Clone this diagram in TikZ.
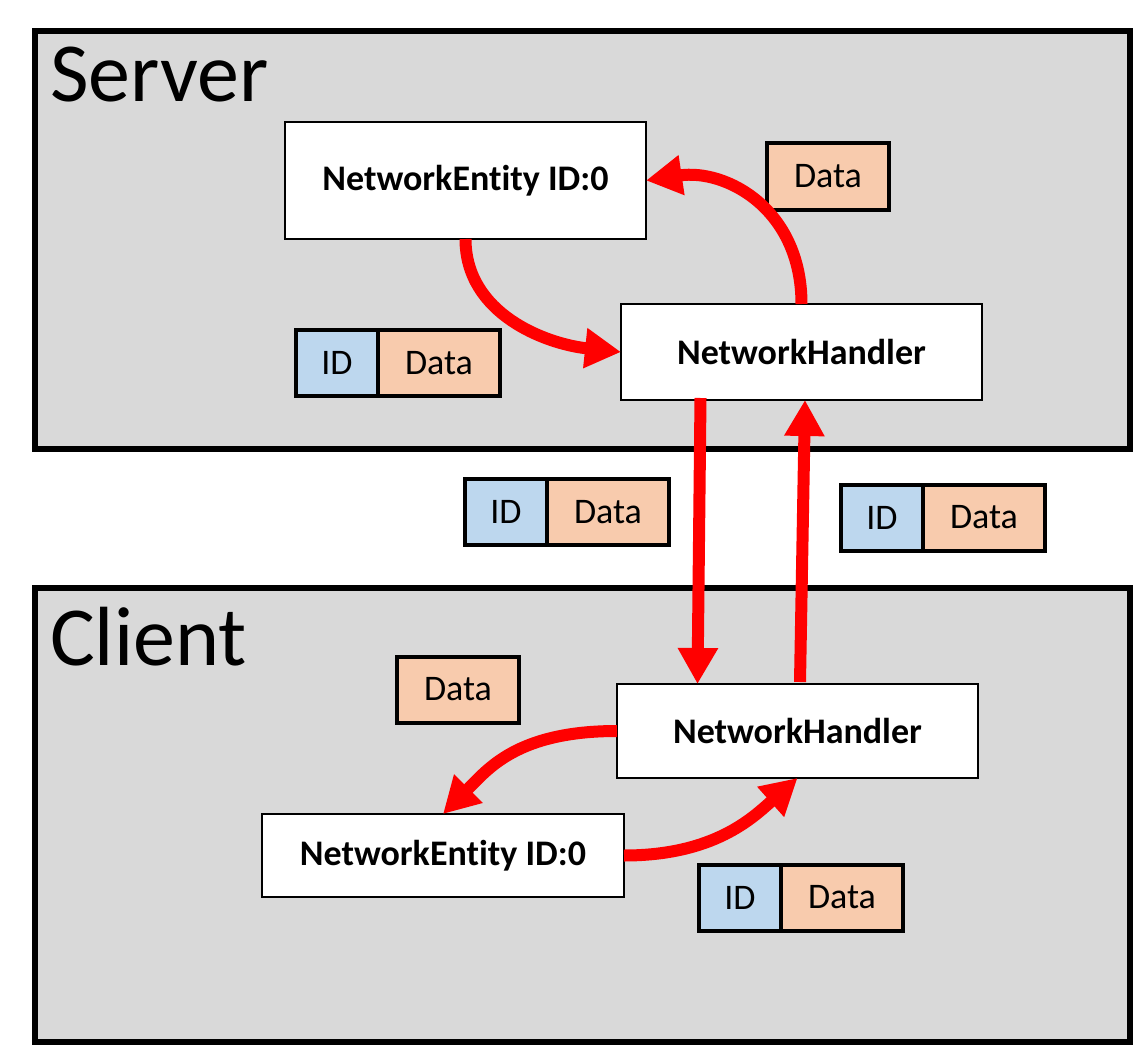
\documentclass[tikz,border=0pt]{standalone}
\usepackage{fontspec}
\setmainfont{Carlito}[Ligatures=NoCommon]
\usetikzlibrary{arrows.meta}
\definecolor{panelgray}{HTML}{D9D9D9}
\definecolor{idblue}{HTML}{BDD7EE}
\definecolor{dataorange}{HTML}{F8CBAD}
\definecolor{arrred}{HTML}{FF0000}
\begin{document}
\begin{tikzpicture}[x=1pt,y=-1pt,
  every node/.style={outer sep=0pt},
  panel/.style={draw=black,fill=panelgray,line width=6pt,inner sep=0pt,minimum width=1095pt},
  panellabel/.style={font=\fontsize{84}{84}\selectfont,anchor=base west,inner sep=0pt},
  comp/.style={draw=black,fill=white,line width=2pt,inner sep=0pt,minimum width=361pt,font=\fontsize{36}{36}\selectfont\bfseries},
  idbox/.style={draw=black,fill=idblue,line width=4pt,inner sep=0pt,minimum width=82pt,minimum height=66pt,font=\fontsize{36}{36}\selectfont},
  databox/.style={draw=black,fill=dataorange,line width=4pt,inner sep=0pt,minimum width=122pt,minimum height=66pt,font=\fontsize{36}{36}\selectfont},
  flow/.style={draw=arrred,line width=12pt,-{Triangle[width=38pt,length=36pt]}}
]
\useasboundingbox (0,0) rectangle (1133,1046);
\fill[white] (0,0) rectangle (1133,1046);

% panels
\node[panel,minimum height=418pt] (server) at (582.5,240) {};
\node[panel,minimum height=454pt] (client) at (582.5,815) {};
\node[panellabel] (serverlbl) at (50,102) {Server};
\node[panellabel] (clientlbl) at (50,665) {Client};

% server components
\node[comp,minimum height=117pt] (neS) at (465.5,180.5) {NetworkEntity ID:0};
\node[comp,minimum height=96pt] (nhS) at (801.5,352) {NetworkHandler};
\node[databox] (dataS) at (828,176.5) {Data};
\node[idbox,anchor=west] (idS) at (296,363) {ID};
\node[databox,anchor=west] (idDataS) at (idS.east) {Data};

% middle packets
\node[idbox,anchor=west] (idM1) at (465,512) {ID};
\node[databox,anchor=west] (dataM1) at (idM1.east) {Data};
\node[idbox,anchor=west] (idM2) at (841,517.5) {ID};
\node[databox,anchor=west] (dataM2) at (idM2.east) {Data};

% client components
\node[comp,minimum height=94pt] (nhC) at (797.5,731) {NetworkHandler};
\node[comp,minimum height=83pt,minimum width=362pt] (neC) at (443,855.5) {NetworkEntity ID:0};
\node[databox] (dataC) at (458,689.5) {Data};
\node[idbox,anchor=west] (idC) at (699,897.5) {ID};
\node[databox,anchor=west] (idDataC) at (idC.east) {Data};

% arrows
\draw[flow] (neS.south) .. controls +(0,75) and +(-75,-8) .. (nhS.west);
\draw[flow] (nhS.north) .. controls +(0,-95) and +(80,-12) .. (neS.east);
\draw[flow] ([xshift=-101pt,yshift=2pt]nhS.south) -- ([xshift=-100pt]nhC.north);
\draw[flow] ([xshift=2.5pt,yshift=2pt]nhC.north) -- ([xshift=3.5pt]nhS.south);
\draw[flow] (nhC.west) .. controls +(-100,0) and +(45,-45) .. (neC.north);
\draw[flow] (neC.east) .. controls +(90,0) and +(-45,40) .. (nhC.south);
\end{tikzpicture}
\end{document}
